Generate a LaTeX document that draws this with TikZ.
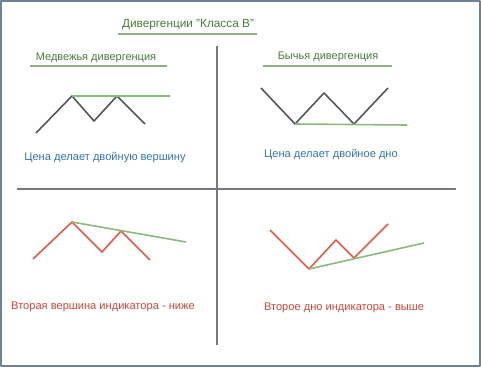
\documentclass[tikz,border=0pt]{standalone}
\usepackage{fontspec}
\setmainfont{Liberation Sans}
\usetikzlibrary{positioning}
\definecolor{txtgreen}{RGB}{70,125,58}
\definecolor{txtblue}{RGB}{52,118,176}
\definecolor{txtred}{RGB}{206,70,58}
\definecolor{linegray}{RGB}{85,85,100}
\definecolor{linered}{RGB}{226,92,72}
\definecolor{linegreen}{RGB}{140,185,125}
\definecolor{ulgreen}{RGB}{150,170,140}
\definecolor{framecol}{RGB}{110,130,150}

\begin{document}
\begin{tikzpicture}
[x=1pt,y=-1pt,line join=round,
 title/.style = {inner sep=0pt, text=txtgreen, font=\fontsize{11.8}{13}\selectfont},
 label/.style = {inner sep=0pt, font=\fontsize{11.1}{13}\selectfont},
 uline/.style = {draw=ulgreen, line width=2.5pt},
 axis/.style = {draw=linegray!80, line width=2pt},
 price/.style = {draw=linegray, line width=1.6pt},
 indic/.style = {draw=linered, line width=1.6pt},
 trend/.style = {draw=linegreen, line width=1.6pt},]
\useasboundingbox (0,0) rectangle (481,367);
\draw[framecol, line width=1.5pt] (1,1) rectangle (480,366);
% titles
\node (T) at (188,25)[title] {Дивергенции "Класса В"};
\node (L) at (96,58)[title,font=\fontsize{11}{13}\selectfont] {Медвежья дивергенция};
\node (R) at (328,57)[title,font=\fontsize{11}{13}\selectfont] {Бычья дивергенция};
\coordinate (t1) at (118,34);
\coordinate (t2) at (257,34);
\coordinate (l1) at (30,66);
\coordinate (l2) at (167,66);
\coordinate (r1) at (263,66);
\coordinate (r2) at (392,66);
\draw[uline] (t1) -- (t2);
\draw[uline] (l1) -- (l2);
\draw[uline] (r1) -- (r2);
% axes
\coordinate (v1) at (217,46);
\coordinate (v2) at (217,345);
\coordinate (h1) at (17,189);
\coordinate (h2) at (456,189);
\draw[axis] (v1) -- (v2);
\draw[axis] (h1) -- (h2);
% price, double top
\coordinate (a1) at (36,133);
\coordinate (a2) at (72,96);
\coordinate (a3) at (94,121);
\coordinate (a4) at (117,96);
\coordinate (a5) at (145,124);
\coordinate (a6) at (170,96);
\draw[price] (a1) -- (a2) -- (a3) -- (a4) -- (a5);
\draw[trend] (a2) -- (a6);
% price, double bottom
\coordinate (b1) at (261,88);
\coordinate (b2) at (295,124);
\coordinate (b3) at (324,93);
\coordinate (b4) at (354,124);
\coordinate (b5) at (388,88);
\coordinate (b6) at (407,125);
\draw[price] (b1) -- (b2) -- (b3) -- (b4) -- (b5);
\draw[trend] (b2) -- (b6);
% indicator, lower top
\coordinate (c1) at (33,259);
\coordinate (c2) at (72,222);
\coordinate (c3) at (102,252);
\coordinate (c4) at (121,231);
\coordinate (c5) at (150,260);
\coordinate (c6) at (186,242);
\draw[indic] (c1) -- (c2) -- (c3) -- (c4) -- (c5);
\draw[trend] (c2) -- (c6);
% indicator, higher bottom
\coordinate (d1) at (270,230);
\coordinate (d2) at (309,269);
\coordinate (d3) at (336,240);
\coordinate (d4) at (354,258);
\coordinate (d5) at (388,224);
\coordinate (d6) at (424,243);
\draw[indic] (d1) -- (d2) -- (d3) -- (d4) -- (d5);
\draw[trend] (d2) -- (d6);
% captions
\node (p1) at (105,158)[label,text=txtblue] {Цена делает двойную вершину};
\node (p2) at (331,154)[label,text=txtblue] {Цена делает двойное дно};
\node (i1) at (103,307)[label,text=txtred] {Вторая вершина индикатора - ниже};
\node (i2) at (344,308)[label,text=txtred] {Второе дно индикатора - выше};
\end{tikzpicture}
\end{document}
